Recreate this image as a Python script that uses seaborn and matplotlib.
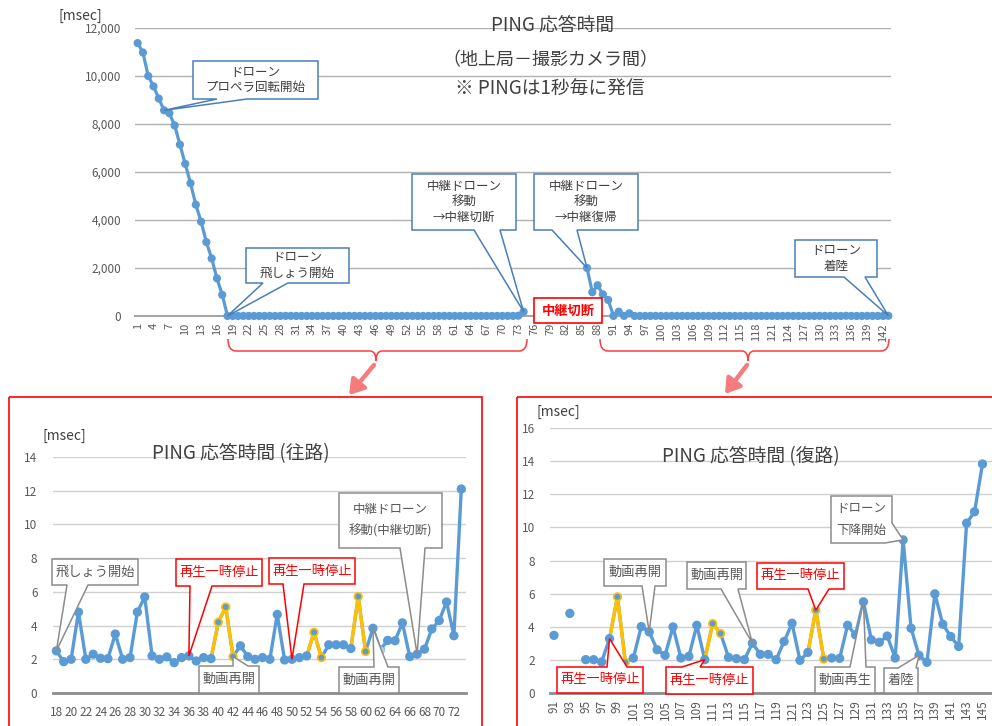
import numpy as np
import pandas as pd
import matplotlib
matplotlib.use("Agg")
import matplotlib.pyplot as plt
from matplotlib.patches import Polygon, Rectangle, PathPatch
from matplotlib.path import Path
import seaborn as sns

# ---- data (msec) ----
# drone start-up, seconds 1-17
head_sec = list(range(1, 18))
head_ms = [11370, 10980, 10000, 9570, 9060, 8570, 8450, 7940, 7140,
           6340, 5530, 4640, 3930, 3080, 2400, 1570, 880]

# outbound leg, seconds 18-73
out_sec = list(range(18, 74))
out_ms = [2.5, 1.86, 2.0, 4.8, 2.0, 2.3, 2.06, 2.04, 3.5, 2.0,
          2.1, 4.8, 5.7, 2.2, 2.0, 2.14, 1.8, 2.1, 2.2, 1.9,
          2.1, 2.04, 4.2, 5.1, 2.16, 2.8, 2.16, 2.0, 2.1, 2.0,
          4.66, 1.96, 2.0, 2.1, 2.2, 3.6, 2.1, 2.86, 2.86, 2.86,
          2.64, 5.72, 2.46, 3.84, 2.56, 3.12, 3.1, 4.16, 2.16, 2.3,
          2.6, 3.8, 4.3, 5.4, 3.4, 12.1]

# return leg, seconds 91-145 (92 and 94 are off the zoomed scale)
ret_sec = list(range(91, 146))
ret_ms = [3.47, np.nan, 4.8, np.nan, 2.0, 2.0, 1.86, 3.27, 5.8, 1.84,
          2.1, 4.0, 3.68, 2.6, 2.26, 3.98, 2.1, 2.2, 4.08, 2.0,
          4.18, 3.58, 2.14, 2.06, 2.0, 3.0, 2.32, 2.32, 2.0, 3.1,
          4.2, 1.96, 2.44, 5.0, 2.04, 2.1, 2.08, 4.08, 3.5, 5.5,
          3.2, 3.05, 3.43, 2.1, 9.25, 3.9, 2.26, 1.84, 5.98, 4.14,
          3.4, 2.8, 10.26, 10.95, 13.84]

# values only seen on the overview chart
extra_sec = [74, 86, 87, 88, 89, 90, 92, 94]
extra_ms = [180, 2000, 990, 1280, 905, 670, 180, 110]
top_last_sec = 143

# video pause spans (highlighted segments)
out_pauses = [(39, 42), (52, 54), (58, 60)]
ret_pauses = [(98, 100), (110, 112), (123, 125)]
out_faded = [62]

BLUE = "#5B9BD5"
GOLD = "#FFC000"
TXT = "#595959"
RED = "#FF0000"
W, H = 992, 726

sns.set_theme(style="white")
plt.rcParams["font.family"] = ["Noto Sans CJK JP", "DejaVu Sans"]

fig = plt.figure(figsize=(W / 100, H / 100), dpi=100)


def px_axes(x0, y0, x1, y1):
    return fig.add_axes([x0 / W, 1 - y1 / H, (x1 - x0) / W, (y1 - y0) / H])


def draw_series(ax, sec, ms, lw, size, pauses=(), faded=()):
    df = pd.DataFrame({"sec": sec, "ms": ms}).sort_values("sec")
    df["seg"] = df["ms"].isna().cumsum()
    df = df.dropna()
    sns.lineplot(data=df, x="sec", y="ms", units="seg", estimator=None, sort=False,
                 color=BLUE, lw=lw, ax=ax, legend=False, clip_on=False)
    for a, b in pauses:
        part = df[(df.sec >= a) & (df.sec <= b)]
        sns.lineplot(data=part, x="sec", y="ms", estimator=None, sort=False,
                     color=GOLD, lw=lw, ax=ax, legend=False, clip_on=False)
    edge = [GOLD if any(a < s <= b for a, b in pauses) else BLUE for s in df.sec]
    sns.scatterplot(data=df, x="sec", y="ms", s=size, color=BLUE, edgecolor=edge,
                    linewidth=1.2, ax=ax, legend=False, zorder=4, clip_on=False)
    if faded:
        f = df[df.sec.isin(faded)]
        sns.scatterplot(data=f, x="sec", y="ms", s=size, color="#B4D0EE", edgecolor="#B4D0EE",
                        ax=ax, legend=False, zorder=5, clip_on=False)


def style(ax, xlim, ylim, yticks, grid_c, axis_c, axis_lw):
    ax.set_xlim(*xlim)
    ax.set_ylim(*ylim)
    ax.set_yticks(yticks)
    ax.grid(axis="y", color=grid_c, lw=1)
    ax.grid(axis="x", visible=False)
    for s in ["top", "right", "left"]:
        ax.spines[s].set_visible(False)
    ax.spines["bottom"].set_color(axis_c)
    ax.spines["bottom"].set_linewidth(axis_lw)
    ax.spines["bottom"].set_zorder(3)
    ax.tick_params(length=0, colors=TXT, labelsize=8.5)
    ax.set_xlabel("")
    ax.set_ylabel("")
    ax.patch.set_alpha(0)


# ---- overview chart ----
top = pd.Series(np.nan, index=range(1, top_last_sec + 1))
top.loc[head_sec] = head_ms
top.loc[out_sec] = out_ms
top.loc[[s for s in ret_sec if s <= top_last_sec]] = [v for s, v in zip(ret_sec, ret_ms) if s <= top_last_sec]
top.loc[extra_sec] = extra_ms

ax_top = px_axes(135, 28, 891, 316)
draw_series(ax_top, top.index, top.values, 2.3, 22)
style(ax_top, (0.5, top_last_sec + 0.5), (0, 12000), range(0, 12001, 2000), "#B0B0B0", "#A6A6A6", 1.5)
ax_top.set_yticklabels([f"{v:,}" for v in range(0, 12001, 2000)])
ax_top.set_xticks(range(1, top_last_sec + 1, 3))
ax_top.tick_params(axis="x", rotation=90, labelsize=8, pad=5)
ax_top.tick_params(axis="y", pad=10)

# ---- outbound zoom ----
ax_out = px_axes(52.7, 457, 465.7, 693)
draw_series(ax_out, out_sec, out_ms, 2.4, 30, out_pauses, out_faded)
style(ax_out, (17.5, 73.6), (0, 14), range(0, 15, 2), "#D0D0D0", "#8C8C8C", 2)
ax_out.set_xticks(range(18, 74, 2))
ax_out.tick_params(axis="x", pad=9)
ax_out.tick_params(axis="y", pad=11)

# ---- return zoom ----
ax_ret = px_axes(550, 428.3, 992, 692.7)
draw_series(ax_ret, ret_sec, ret_ms, 2.4, 30, ret_pauses)
style(ax_ret, (90.5, 146.2), (0, 16), range(0, 17, 2), "#D0D0D0", "#8C8C8C", 2)
ax_ret.set_xticks(range(91, 146, 2))
ax_ret.tick_params(axis="x", rotation=90, pad=5)
ax_ret.tick_params(axis="y", pad=11)

# ---- annotation layer (pixel coordinates) ----
ov = fig.add_axes([0, 0, 1, 1], zorder=10)
ov.set_xlim(0, W)
ov.set_ylim(H, 0)
ov.axis("off")


def tip(ax, x, y):
    d = ax.transData.transform((x, y))
    return d[0], H - d[1]


def callout(box, side, base, tp, text, edge, tcolor, fs=9, ls=1.25, fw="normal"):
    x0, y0, x1, y1 = box
    b0, b1 = base
    pts = [(x0, y0)]
    if side == "top":
        pts += [(b0, y0), tp, (b1, y0)]
    pts.append((x1, y0))
    if side == "br":
        pts += [(x1, b0), tp, (b1, y1)]
    else:
        pts.append((x1, y1))
        if side == "bottom":
            pts += [(b1, y1), tp, (b0, y1)]
    pts.append((x0, y1))
    ov.add_patch(Polygon(pts, closed=True, fc="white", ec=edge, lw=1.1, joinstyle="miter"))
    ov.text((x0 + x1) / 2, (y0 + y1) / 2, text, ha="center", va="center",
            color=tcolor, fontsize=fs, linespacing=ls, fontweight=fw)


CB = "#4A7EBB"
GB = "#8C8C8C"

callout((193, 61, 318, 99), "bottom", (217, 247), tip(ax_top, 6, top[6]), "ドローン\nプロペラ回転開始", CB, "#404040")
callout((246, 248, 349, 283), "bottom", (263, 288), tip(ax_top, 18, top[18]), "ドローン\n飛しょう開始", CB, "#404040")
callout((412, 174, 516, 230), "bottom", (474, 500), tip(ax_top, 74, top[74]), "中継ドローン\n移動\n→中継切断", CB, "#404040")
callout((534, 174, 638, 230), "bottom", (552, 577), tip(ax_top, 86, top[86]), "中継ドローン\n移動\n→中継復帰", CB, "#404040")
callout((795, 240, 877, 277), "bottom", (844, 865), tip(ax_top, top_last_sec, top[top_last_sec]), "ドローン\n着陸", CB, "#404040")
ov.add_patch(Rectangle((534, 298), 68, 25, fc="white", ec=RED, lw=1.2))
ov.text(568, 310.5, "中継切断", ha="center", va="center", color=RED, fontsize=9.5, fontweight="bold")

o = dict(zip(out_sec, out_ms))
callout((52, 559, 138, 585), "bottom", (67, 88), tip(ax_out, 18, o[18]), "飛しょう開始", GB, TXT, 9.5)
callout((176, 559, 262, 586), "bottom", (190, 212), tip(ax_out, 36, o[36]), "再生一時停止", RED, RED, 9.5)
callout((199, 666, 259, 693), "top", (233, 248), tip(ax_out, 42, o[42]), "動画再開", GB, TXT, 9.5)
callout((269, 558, 355, 584), "bottom", (283, 304), tip(ax_out, 50, o[50]), "再生一時停止", RED, RED, 9.5)
callout((339, 493, 442, 548), "bottom", (400, 425), tip(ax_out, 67, o[67]), "中継ドローン\n移動(中継切断)", GB, TXT, 9, 1.75)
callout((339, 667, 399, 693), "top", (374, 388), tip(ax_out, 61, o[61]), "動画再開", GB, TXT, 9.5)

r = dict(zip(ret_sec, ret_ms))
callout((557, 667, 643, 693), "top", (607, 627), tip(ax_ret, 98, r[98]), "再生一時停止", RED, RED, 9.5)
callout((604, 559, 666, 586), "bottom", (642, 655), tip(ax_ret, 103, r[103]), "動画再開", GB, TXT, 9.5)
callout((666, 667, 753, 694), "top", (682, 700), tip(ax_ret, 110, r[110]), "再生一時停止", RED, RED, 9.5)
callout((687, 562, 746, 589), "bottom", (721, 738), tip(ax_ret, 116, r[116]), "動画再開", GB, TXT, 9.5)
callout((757, 563, 844, 589), "bottom", (808, 829), tip(ax_ret, 124, r[124]), "再生一時停止", RED, RED, 9.5)
callout((815, 667, 875, 693), "top", (850, 866), tip(ax_ret, 130, r[130]), "動画再生", GB, TXT, 9.5)
callout((831, 496, 892, 543), "br", (523, 885), tip(ax_ret, 135, r[135]), "ドローン\n下降開始", GB, TXT, 9, 1.85)
callout((884, 668, 918, 693), "top", (898, 916), tip(ax_ret, 137, r[137]), "着陸", GB, TXT, 9.5)

# titles and unit labels
ov.text(553, 25, "PING 応答時間", ha="center", va="center", color="#404040", fontsize=13.5)
ov.text(550, 60, "（地上局－撮影カメラ間）", ha="center", va="center", color="#404040", fontsize=13)
ov.text(550, 89, "※ PINGは1秒毎に発信", ha="center", va="center", color="#404040", fontsize=13.5)
ov.text(80, 16, "[msec]", ha="center", va="center", color="#404040", fontsize=10)
ov.text(241, 454, "PING 応答時間 (往路)", ha="center", va="center", color="#404040", fontsize=13.5)
ov.text(751, 457, "PING 応答時間 (復路)", ha="center", va="center", color="#404040", fontsize=13.5)
ov.text(64, 436, "[msec]", ha="center", va="center", color="#404040", fontsize=10)
ov.text(558, 412, "[msec]", ha="center", va="center", color="#404040", fontsize=10)


# red braces under the overview axis and arrows to the zoom panels
def brace(x0, x1, xm, yt=339, yb=351, yp=361):
    verts = [(x0, yt), (x0, yb), (x0 + 8, yb), (xm - 6, yb), (xm, yb), (xm, yp),
             (xm, yb), (xm + 6, yb), (x1 - 8, yb), (x1, yb), (x1, yt)]
    codes = [Path.MOVETO, Path.CURVE3, Path.CURVE3, Path.LINETO, Path.CURVE3, Path.CURVE3,
             Path.CURVE3, Path.CURVE3, Path.LINETO, Path.CURVE3, Path.CURVE3]
    ov.add_patch(PathPatch(Path(verts, codes), fc="none", ec="#FF3B3B", lw=1.1))


brace(228, 527, 376)
brace(600, 889, 748)
arrow = dict(arrowstyle="-|>,head_length=0.7,head_width=0.45", color="#F47C7C", lw=3.2, shrinkA=0, shrinkB=0)
ov.annotate("", xy=(349, 395), xytext=(374, 365), arrowprops=arrow)
ov.annotate("", xy=(725, 394), xytext=(747, 365), arrowprops=arrow)

# zoom panel frames
ov.add_patch(Rectangle((8.5, 396.5), 473.5, 340, fc="none", ec=RED, lw=1.2))
ov.add_patch(Rectangle((516.5, 396.5), 480, 340, fc="none", ec=RED, lw=1.2))

fig.savefig("out.png", dpi=100)
